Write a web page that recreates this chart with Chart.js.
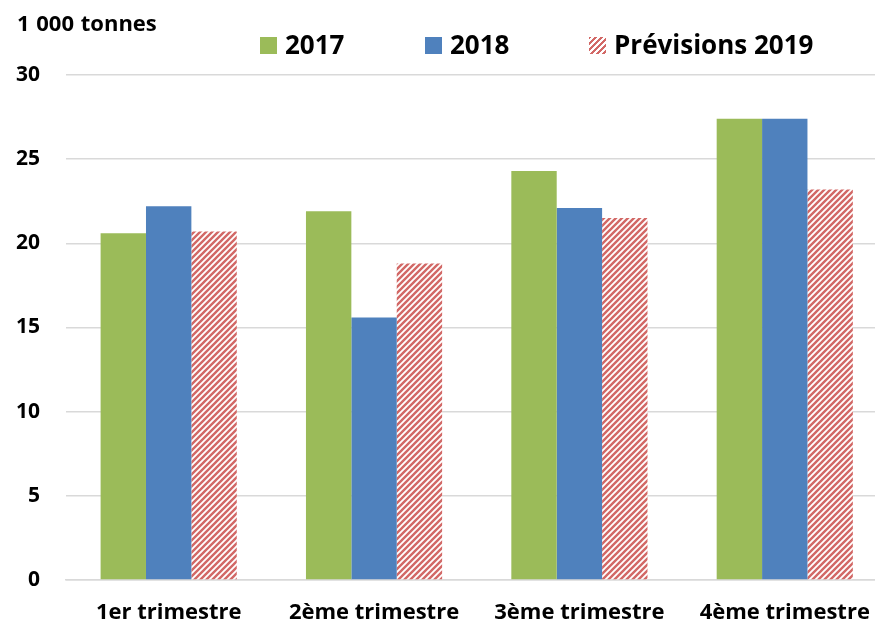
<!DOCTYPE html>
<html>
<head>
<meta charset="utf-8">
<script src="https://cdn.jsdelivr.net/npm/chart.js@4/dist/chart.umd.min.js"></script>
<style>
  html, body { margin: 0; padding: 0; background: #fff; overflow: hidden; }
  #wrap { position: relative; width: 890px; height: 625px; }
  #unit { position: absolute; left: 17px; top: 7px; font: bold 22px "Open Sans", sans-serif; word-spacing: 1px; color: #000; }
  #legend { position: absolute; top: 27px; left: 0; font: bold 26px "Open Sans", sans-serif; color: #000; }
  .item { position: absolute; top: 0; white-space: nowrap; line-height: 34px; }
  .box { display: inline-block; width: 17px; height: 17px; margin-right: 8px; vertical-align: 0px; }
</style>
</head>
<body>
<div id="wrap">
  <canvas id="chart" width="890" height="625"></canvas>
  <div id="unit">1 000 tonnes</div>
  <div id="legend"></div>
</div>
<script>
// Data
const categories = ['1er trimestre', '2ème trimestre', '3ème trimestre', '4ème trimestre'];
const values2017 = [20.6, 21.9, 24.3, 27.4];
const values2018 = [22.2, 15.6, 22.1, 27.4];
const values2019 = [20.7, 18.8, 21.5, 23.2];
const seriesNames = ['2017', '2018', 'Prévisions 2019'];
const yMin = 0;
const yMax = 30;
const yStep = 5;

const GREEN = '#9BBB59';
const BLUE = '#4F81BD';
const HATCH_RED = '#D26866';

// Diagonal hatch pattern for the forecast series
function makeHatch() {
  const size = 6;
  const c = document.createElement('canvas');
  c.width = size;
  c.height = size;
  const ctx = c.getContext('2d');
  ctx.fillStyle = '#fff';
  ctx.fillRect(0, 0, size, size);
  ctx.strokeStyle = HATCH_RED;
  ctx.lineWidth = 2.4;
  ctx.beginPath();
  for (let k = -1; k <= 1; k++) {
    ctx.moveTo(k * size - 1, size + 1);
    ctx.lineTo(k * size + size + 1, -1);
  }
  ctx.stroke();
  return ctx.createPattern(c, 'repeat');
}

const hatch = makeHatch();

// HTML legend
const legendDiv = document.getElementById('legend');
const legendItems = [
  { name: seriesNames[0], left: 260, bg: GREEN },
  { name: seriesNames[1], left: 425, bg: BLUE },
  { name: seriesNames[2], left: 589, bg: 'repeating-linear-gradient(135deg, ' + HATCH_RED + ' 0 2px, #fff 2px 4.2px)' }
];
legendItems.forEach(it => {
  const el = document.createElement('div');
  el.className = 'item';
  el.style.left = it.left + 'px';
  el.innerHTML = '<span class="box" style="background:' + it.bg + '"></span>' + it.name;
  legendDiv.appendChild(el);
});

new Chart(document.getElementById('chart'), {
  type: 'bar',
  data: {
    labels: categories,
    datasets: [
      { label: seriesNames[0], data: values2017, backgroundColor: GREEN },
      { label: seriesNames[1], data: values2018, backgroundColor: BLUE },
      { label: seriesNames[2], data: values2019, backgroundColor: hatch }
    ]
  },
  options: {
    responsive: false,
    animation: false,
    layout: { padding: { top: 75, right: 1, bottom: 0, left: 0 } },
    datasets: {
      bar: { categoryPercentage: 0.663, barPercentage: 1, borderWidth: 0 }
    },
    plugins: {
      legend: { display: false },
      tooltip: { enabled: false }
    },
    scales: {
      x: {
        afterFit: (scale) => { scale.height = 45; },
        grid: { display: false, drawTicks: false },
        border: { display: true, color: '#D9D9D9', width: 1.5 },
        ticks: {
          padding: 20,
          color: '#000',
          font: { family: 'Open Sans', size: 22, weight: 'bold' }
        }
      },
      y: {
        min: yMin,
        max: yMax,
        afterFit: (scale) => { scale.width = 66; },
        grid: { color: '#D9D9D9', lineWidth: 1.5, drawTicks: false },
        border: { display: false },
        ticks: {
          stepSize: yStep,
          padding: 26,
          color: '#000',
          font: { family: 'Open Sans', size: 21, weight: 'bold' }
        }
      }
    }
  }
});
</script>
</body>
</html>
